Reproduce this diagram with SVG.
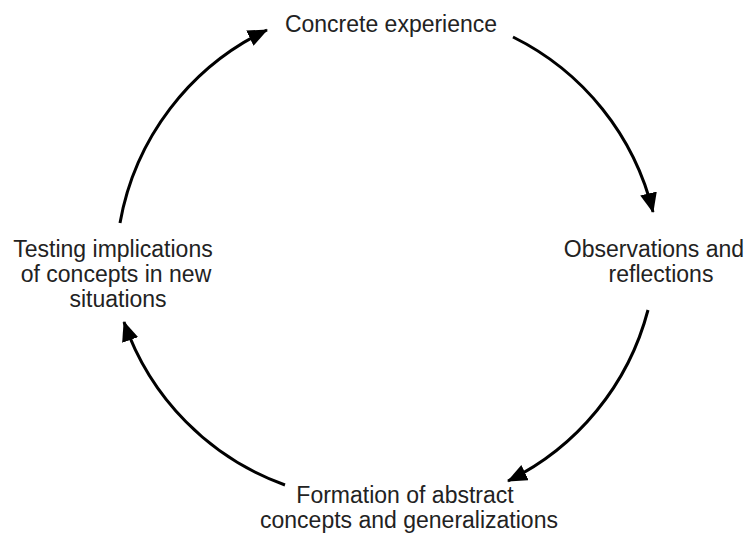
<svg xmlns="http://www.w3.org/2000/svg" width="747" height="533" viewBox="0 0 747 533">
  <style>
    .label { font-family: "Liberation Sans", Arial, sans-serif; font-size: 23px; fill: #222; text-anchor: middle; }
    .arc { fill: none; stroke: #000; stroke-width: 3; }
  </style>
  <defs>
    <marker id="head" viewBox="0 0 20 17" refX="19" refY="8.5" markerWidth="20" markerHeight="17" markerUnits="userSpaceOnUse" orient="auto">
      <path d="M0,0 L20,8.5 L0,17 z" fill="#000"/>
    </marker>
  </defs>
  <rect width="747" height="533" fill="#fff"/>

  <g id="connectors">
    <path class="arc" marker-end="url(#head)" d="M513,37 A265,265 0 0 1 653,212"/>
    <path class="arc" marker-end="url(#head)" d="M648,310 A265,265 0 0 1 508,481"/>
    <path class="arc" marker-end="url(#head)" d="M285,485 A265,265 0 0 1 124,322"/>
    <path class="arc" marker-end="url(#head)" d="M120,223 A265,265 0 0 1 267,30"/>
  </g>

  <g id="concrete-experience">
    <text class="label" x="391" y="32">Concrete experience</text>
  </g>
  <g id="observations">
    <text class="label" x="654" y="257" font-size="22.5">Observations and</text>
    <text class="label" x="661" y="282">reflections</text>
  </g>
  <g id="abstract-concepts">
    <text class="label" x="405" y="503">Formation of abstract</text>
    <text class="label" x="409" y="528">concepts and generalizations</text>
  </g>
  <g id="testing">
    <text class="label" x="113" y="257">Testing implications</text>
    <text class="label" x="116" y="282">of concepts in new</text>
    <text class="label" x="118" y="307">situations</text>
  </g>
</svg>
